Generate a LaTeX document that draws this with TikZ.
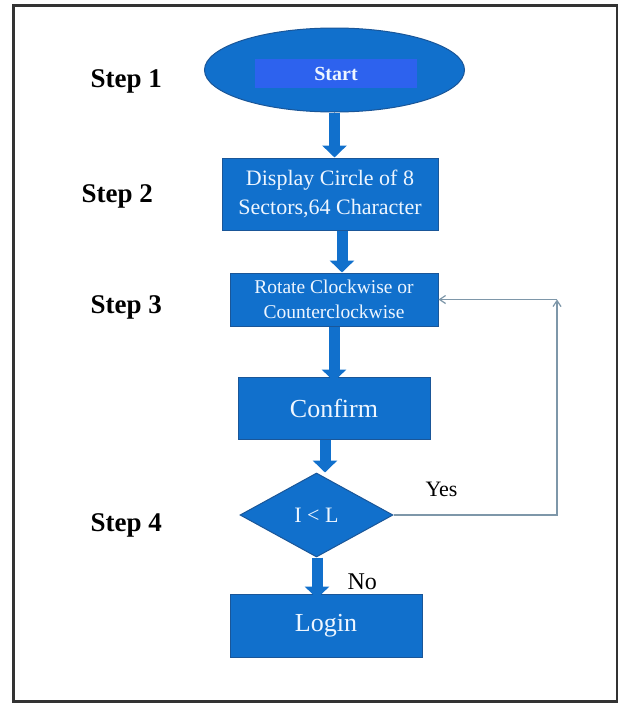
\documentclass[tikz,border=0pt]{standalone}
\usepackage{fontspec}
\setmainfont{Liberation Serif}
\usetikzlibrary{shapes.geometric,arrows.meta}

\definecolor{boxblue}{HTML}{1170CC}
\definecolor{boxedge}{HTML}{1A5698}
\definecolor{startblue}{HTML}{2D62EE}
\definecolor{boxtext}{HTML}{EEF6FF}
\definecolor{loopline}{HTML}{7E97A9}
\definecolor{framegray}{HTML}{333333}

\tikzset{
  flowbox/.style={rectangle, draw=boxedge, line width=1pt, fill=boxblue,
    text=boxtext, align=center, inner sep=0pt},
  steplbl/.style={anchor=base west, font=\fontsize{27}{30}\selectfont\bfseries, text=black},
  plainlbl/.style={anchor=base west, text=black},
  blockarrow/.style={draw=boxblue, line width=11pt,
    -{Triangle[width=24pt,length=12pt]}},
  looparrow/.style={draw=loopline, line width=1.2pt,
    -{Straight Barb[length=6pt,width=8pt]}},
}

\begin{document}
\begin{tikzpicture}[x=1pt,y=-1pt]
  \useasboundingbox (0,0) rectangle (619,704);
  % outer frame
  \draw[framegray, line width=2.5pt] (13.5,5.5) rectangle (617,701.5);

  % step labels
  \node[steplbl] (s1) at (87,87)  {Step 1};
  \node[steplbl] (s2) at (78,202) {Step 2};
  \node[steplbl] (s3) at (87,313) {Step 3};
  \node[steplbl] (s4) at (87,531) {Step 4};

  % flowchart nodes
  \node[ellipse, draw=boxedge, line width=1pt, fill=boxblue,
        minimum width=260pt, minimum height=84pt, inner sep=0pt] (start) at (334.5,70) {};
  \node[rectangle, fill=startblue, text=boxtext, minimum width=162pt, minimum height=29pt,
        inner sep=0pt, font=\fontsize{20}{22}\selectfont\bfseries] (startlbl) at (336,73.5) {Start};

  \node[flowbox, minimum width=216pt, minimum height=72pt,
        font=\fontsize{22}{29}\selectfont] (disp) at (330,194)
        {Display Circle of 8\\Sectors,64 Character};

  \node[flowbox, minimum width=208pt, minimum height=53pt,
        font=\fontsize{19.5}{25}\selectfont] (rot) at (334,299.5)
        {Rotate Clockwise or\\Counterclockwise};

  \node[flowbox, minimum width=192pt, minimum height=62pt,
        font=\fontsize{26}{28}\selectfont] (conf) at (334,408) {Confirm};

  \node[diamond, draw=boxedge, line width=1pt, fill=boxblue, text=boxtext,
        aspect=1.82, minimum width=153pt, minimum height=84pt, inner sep=0pt,
        font=\fontsize{22}{24}\selectfont] (dec) at (316.5,515) {I < L};

  \node[flowbox, minimum width=192pt, minimum height=63pt,
        font=\fontsize{26}{28}\selectfont] (login) at (326,625.5) {Login};

  % branch labels
  \node[plainlbl, font=\fontsize{22}{24}\selectfont] (yes) at (422,496) {Yes};
  \node[plainlbl, font=\fontsize{24}{26}\selectfont] (no) at (344,589) {No};

  % main flow arrows
  \draw[blockarrow] (start.south) -- (start.south |- disp.north);
  \draw[blockarrow] ([xshift=12pt]disp.south) -- ([xshift=12pt]disp.south |- rot.north);
  \draw[blockarrow] (rot.south) -- ([yshift=-5pt]rot.south |- conf.north);
  \draw[blockarrow] ([xshift=-9pt]conf.south) -- ([xshift=-9pt]conf.south |- dec.north);
  \draw[blockarrow] ([xshift=0.5pt]dec.south) -- ([xshift=0.5pt,yshift=-5pt]dec.south |- login.north);

  % loop back for another rotation
  \coordinate (lc) at (557,299.5);
  \draw[looparrow] (dec.east) -| (lc);
  \draw[looparrow] (lc) -- (rot.east);
\end{tikzpicture}
\end{document}
